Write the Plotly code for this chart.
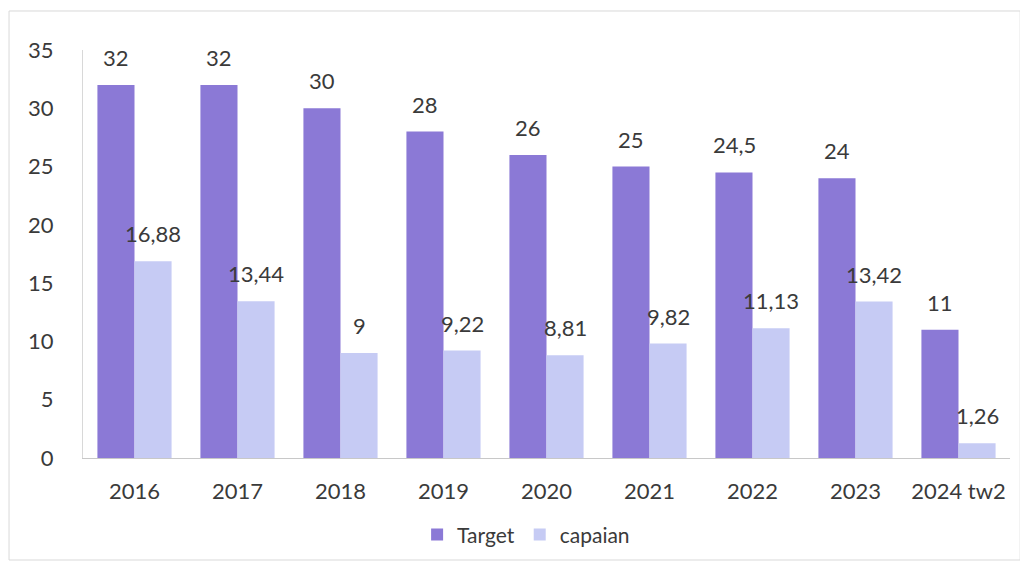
import plotly.graph_objects as go

categories = ["2016", "2017", "2018", "2019", "2020", "2021", "2022", "2023", "2024 tw2"]
target = [32, 32, 30, 28, 26, 25, 24.5, 24, 11]
capaian = [16.88, 13.44, 9, 9.22, 8.81, 9.82, 11.13, 13.42, 1.26]
y_ticks = [0, 5, 10, 15, 20, 25, 30, 35]

def fmt(v):
    s = ("%g" % v)
    return s.replace(".", ",")

font_family = "Lato, 'Open Sans', sans-serif"
text_color = "#3a3a3a"

fig = go.Figure()
fig.add_trace(go.Bar(name="Target", x=categories, y=target, marker_color="#8B79D6",
                     marker_line_width=0))
fig.add_trace(go.Bar(name="capaian", x=categories, y=capaian, marker_color="#C6CBF4",
                     marker_line_width=0))

# category axis: annotations placed by category index
for i, v in enumerate(target):
    fig.add_annotation(x=i, y=v, text=fmt(v), showarrow=False, xshift=-18.5, yshift=12,
                       yanchor="bottom", font=dict(size=22, color=text_color, family=font_family))
for i, v in enumerate(capaian):
    fig.add_annotation(x=i, y=v, text=fmt(v), showarrow=False, xshift=18.5, yshift=12,
                       yanchor="bottom", font=dict(size=22, color=text_color, family=font_family))

fig.add_shape(type="rect", xref="paper", yref="paper", x0=-0.0798, x1=1.011, y0=-0.25, y1=1.0956,
              line=dict(color="#d9d9d9", width=1), fillcolor="rgba(0,0,0,0)", layer="below")

fig.update_layout(
    width=1020, height=560,
    margin=dict(l=75, r=18, t=42, b=110),
    paper_bgcolor="white", plot_bgcolor="white",
    barmode="group", bargap=0.28, bargroupgap=0,
    font=dict(family=font_family, size=22, color=text_color),
    showlegend=True,
    legend=dict(orientation="h", x=0.478, xanchor="center", y=-0.138, yanchor="top",
                font=dict(size=21, color=text_color), traceorder="normal"),
    xaxis=dict(type="category", range=[-0.5, len(categories) - 0.5], showline=True,
               linecolor="#c8c8c8", linewidth=1, ticks="", showgrid=False, tickfont=dict(size=22),
               ticklabelstandoff=14),
    yaxis=dict(range=[0, 35], tickvals=y_ticks, showline=True, linecolor="#d8d8d8", linewidth=1,
               showgrid=False, zeroline=False, ticks="", ticklabelstandoff=24,
               tickfont=dict(size=22)),
)

fig.write_html("out.html")
